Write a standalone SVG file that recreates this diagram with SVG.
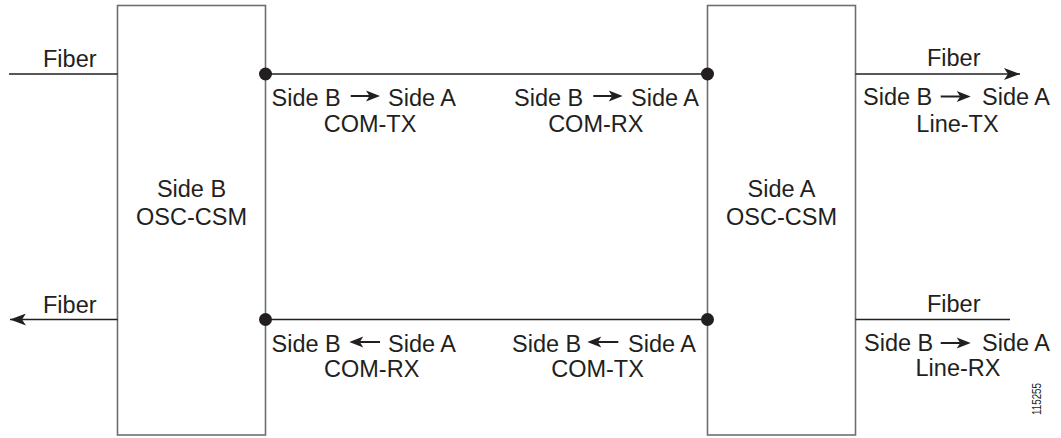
<svg xmlns="http://www.w3.org/2000/svg" width="1061" height="438" viewBox="0 0 1061 438">
<defs>
<style>
.box{fill:#fff;stroke:#6d6e71;stroke-width:1.6}
.ln{stroke:#231f20;stroke-width:1.6;fill:none}
.dot{fill:#231f20}
.t{font-family:"Liberation Sans",Arial,sans-serif;font-size:23.5px;fill:#231f20}
.m{text-anchor:middle}
.e{text-anchor:end}
.ar{stroke:#231f20;stroke-width:2;fill:none}
.ah{fill:#231f20}
</style>
<marker id="fh" viewBox="0 0 16 12" refX="16" refY="6" markerWidth="16" markerHeight="12" markerUnits="userSpaceOnUse" orient="auto">
<path d="M0,0 L16,6 L0,12 L4,6 Z" fill="#231f20"/>
</marker>
</defs>
<g id="sideB">
<rect class="box" x="117.5" y="5.5" width="148" height="429.5"/>
<text class="t m" x="191.5" y="197">Side B</text>
<text class="t m" x="191.5" y="224.5">OSC-CSM</text>
</g>
<g id="sideA">
<rect class="box" x="707.5" y="5.5" width="148" height="429.5"/>
<text class="t m" x="781.5" y="197">Side A</text>
<text class="t m" x="781.5" y="224.5">OSC-CSM</text>
</g>
<g id="connectors">
<line class="ln" x1="9" y1="74" x2="117.5" y2="74"/>
<line class="ln" x1="117.5" y1="319.5" x2="10" y2="319.5" marker-end="url(#fh)"/>
<line class="ln" x1="265.5" y1="74" x2="707.5" y2="74"/>
<line class="ln" x1="265.5" y1="319.5" x2="707.5" y2="319.5"/>
<line class="ln" x1="855.5" y1="74" x2="1020" y2="74" marker-end="url(#fh)"/>
<line class="ln" x1="855.5" y1="319.5" x2="1010" y2="319.5"/>
<circle class="dot" cx="265.5" cy="74" r="6.5"/>
<circle class="dot" cx="707.5" cy="74" r="6.5"/>
<circle class="dot" cx="265.5" cy="319.5" r="6.5"/>
<circle class="dot" cx="707.5" cy="319.5" r="6.5"/>
</g>
<g id="labels">
<text class="t" x="43" y="67">Fiber</text>
<text class="t" x="43" y="313">Fiber</text>
<text class="t m" x="953.7" y="66">Fiber</text>
<text class="t m" x="953.7" y="312">Fiber</text>

<text class="t" x="271.5" y="106">Side B</text>
<line class="ar" x1="350.7" y1="96" x2="370" y2="96"/><path class="ah" d="M380,96 L366,90.5 L369.5,96 L366,101.5 Z"/>
<text class="t" x="388" y="106">Side A</text>
<text class="t m" x="370" y="132">COM-TX</text>

<text class="t" x="514" y="106">Side B</text>
<line class="ar" x1="593.3" y1="96" x2="612" y2="96"/><path class="ah" d="M622.7,96 L608.7,90.5 L612.2,96 L608.7,101.5 Z"/>
<text class="t e" x="699" y="106">Side A</text>
<text class="t m" x="595.8" y="132">COM-RX</text>

<text class="t" x="863" y="105">Side B</text>
<line class="ar" x1="940.7" y1="96.5" x2="960" y2="96.5"/><path class="ah" d="M970.7,96.5 L956.7,91 L960.2,96.5 L956.7,102 Z"/>
<text class="t e" x="1050" y="105">Side A</text>
<text class="t m" x="957.5" y="132">Line-TX</text>

<text class="t" x="271.5" y="352">Side B</text>
<line class="ar" x1="360" y1="342" x2="380" y2="342"/><path class="ah" d="M349.3,342 L363.3,336.5 L359.8,342 L363.3,347.5 Z"/>
<text class="t" x="388" y="352">Side A</text>
<text class="t m" x="371.7" y="377">COM-RX</text>

<text class="t" x="512" y="352">Side B</text>
<line class="ar" x1="598" y1="342" x2="618.3" y2="342"/><path class="ah" d="M587.3,342 L601.3,336.5 L597.8,342 L601.3,347.5 Z"/>
<text class="t e" x="696" y="352">Side A</text>
<text class="t m" x="597.5" y="377">COM-TX</text>

<text class="t" x="864" y="351">Side B</text>
<line class="ar" x1="940.7" y1="343" x2="960" y2="343"/><path class="ah" d="M970.7,343 L956.7,337.5 L960.2,343 L956.7,348.5 Z"/>
<text class="t e" x="1050" y="351">Side A</text>
<text class="t m" x="958" y="376">Line-RX</text>

<text x="1040.5" y="415" transform="rotate(-90 1040.5 415)" style="font-family:'Liberation Sans',Arial,sans-serif;font-size:13.5px;fill:#231f20" textLength="32" lengthAdjust="spacingAndGlyphs">115255</text>
</g>
</svg>
